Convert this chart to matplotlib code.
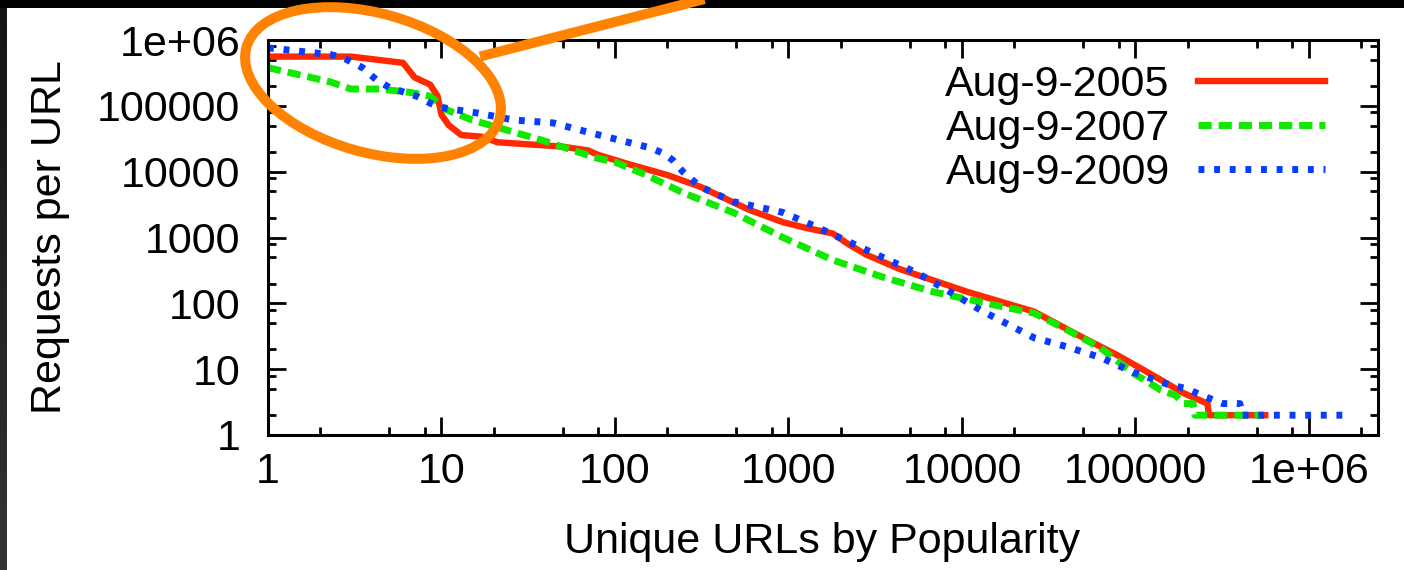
import numpy as np
import matplotlib
matplotlib.use("Agg")
import matplotlib.pyplot as plt
from matplotlib.patches import Ellipse, Rectangle
from matplotlib.lines import Line2D
from matplotlib.transforms import IdentityTransform
from matplotlib.ticker import LogLocator, FuncFormatter, NullFormatter

plt.rcParams['font.family'] = ['Liberation Sans', 'DejaVu Sans']

# rank (x) vs requests per URL (y)
x_2005 = [1, 3, 6, 7, 8.6, 9.5, 10, 11, 13, 17, 21, 50, 70, 80, 120, 200, 310, 600,
          935, 1260, 1800, 2200, 2800, 4400, 10700, 26000, 50000, 78000, 120000,
          190000, 260000, 265000, 560000]
y_2005 = [5.6e5, 5.6e5, 4.5e5, 2.7e5, 2.1e5, 1.4e5, 7.3e4, 5.1e4, 3.6e4, 3.4e4, 2.8e4,
          2.4e4, 2.1e4, 1.8e4, 1.3e4, 8.9e3, 5.9e3, 2.6e3, 1.7e3, 1.4e3, 1.15e3, 800,
          550, 330, 150, 75, 30, 16.5, 8.7, 4.3, 3, 2, 2]

x_2007 = [1, 2.3, 3, 4.4, 6.6, 8.6, 10.7, 15, 26, 38, 79, 100, 150, 246, 480, 930,
          1800, 3500, 6800, 17000, 26000, 40000, 63000, 97000, 120000, 140000, 170000,
          190000, 215000, 220000, 540000]
y_2007 = [3.8e5, 2.3e5, 1.8e5, 1.8e5, 1.6e5, 1.4e5, 8.7e4, 6.1e4, 4e4, 3e4, 1.6e4,
          1.4e4, 9e3, 4.8e3, 2.4e3, 1e3, 455, 250, 150, 89, 71, 40, 21, 8.7, 6.2, 4.8,
          4, 3, 3, 2, 2]

x_2009 = [1, 2.3, 2.7, 3.5, 4.2, 5, 7.2, 8.6, 10, 16, 26, 44, 72, 107, 160, 190, 215,
          246, 310, 480, 930, 1450, 2800, 5500, 8500, 13000, 26000, 40000, 63000, 97000,
          150000, 200000, 240000, 320000, 400000, 410000, 1.6e6]
y_2009 = [7.6e5, 6e5, 5.4e5, 3.8e5, 2.5e5, 1.9e5, 1.4e5, 1.1e5, 9.4e4, 7.8e4, 6.1e4,
          5.5e4, 3.9e4, 3e4, 2.3e4, 1.9e4, 1.5e4, 1e4, 5.9e3, 3.5e3, 2.4e3, 1.45e3, 650,
          290, 150, 77, 30, 22, 15, 9, 6, 5, 4, 3, 3, 2, 2]

labels = ['Aug-9-2005', 'Aug-9-2007', 'Aug-9-2009']

W, H = 1404, 570
fig = plt.figure(figsize=(W / 100, H / 100), dpi=100)
fig.patch.set_facecolor('black')

# white slide panel and dark left strip
fig.add_artist(Rectangle((7 / W, 0), 1 - 7 / W, (H - 8) / H, transform=fig.transFigure,
                         facecolor='white', edgecolor='none', zorder=-5))
gax = fig.add_axes([0, 0, 7 / W, (H - 8) / H], zorder=-4)
gax.imshow(np.linspace(0.08, 0.2, 50)[:, None], cmap='gray', vmin=0, vmax=1,
           aspect='auto', origin='upper')
gax.axis('off')

ax = fig.add_axes([268 / W, (H - 435) / H, (1378 - 268) / W, (435 - 40) / H])
ax.plot(x_2005, y_2005, color='#ff2800', lw=4.6, label=labels[0])
ax.plot(x_2007, y_2007, color='#11e800', lw=5.0, dashes=(1.9, 1.0), label=labels[1])
ax.plot(x_2009, y_2009, color='#0a3cff', lw=5.0, dashes=(0.85, 1.4), label=labels[2])

ax.set_xscale('log')
ax.set_yscale('log')
ax.set_xlim(1, 2.5e6)
ax.set_ylim(1, 1e6)

fmt = FuncFormatter(lambda v, p: '1e+06' if v >= 1e6 else f'{int(round(v))}')
for a in (ax.xaxis, ax.yaxis):
    a.set_major_locator(LogLocator(base=10, numticks=20))
    a.set_minor_locator(LogLocator(base=10, subs=[2, 5, 8], numticks=20))
    a.set_major_formatter(fmt)
    a.set_minor_formatter(NullFormatter())

ax.tick_params(which='both', direction='in', top=True, right=True, width=2, labelsize=31)
ax.tick_params(which='major', length=13)
ax.tick_params(which='minor', length=6)
ax.tick_params(axis='y', pad=20)
ax.tick_params(axis='x', pad=12)
for s in ax.spines.values():
    s.set_linewidth(2.2)

fig.text(50 / W, 1 - 237 / H, 'Requests per URL', rotation=90, ha='center', va='center',
         fontsize=31)
fig.text(822 / W, (H - 553) / H, 'Unique URLs by Popularity', ha='center', va='baseline',
         fontsize=31)

ax.legend(loc='upper right', bbox_to_anchor=(0.952, 0.937), frameon=False,
          markerfirst=False, handlelength=2.95, handletextpad=0.65, labelspacing=0.1,
          borderpad=0, borderaxespad=0, fontsize=31)

# orange callout
orange = '#ff8300'
fig.add_artist(Ellipse((373, H - 83), width=263, height=139, angle=-15.8,
                       transform=IdentityTransform(), fill=False, edgecolor=orange,
                       lw=7.2, zorder=10))
fig.add_artist(Line2D([480, 724], [H - 56.5, H + 6], transform=IdentityTransform(),
                      color=orange, lw=7.2, solid_capstyle='butt', zorder=10))

fig.savefig('out.png', dpi=100, facecolor=fig.get_facecolor())
